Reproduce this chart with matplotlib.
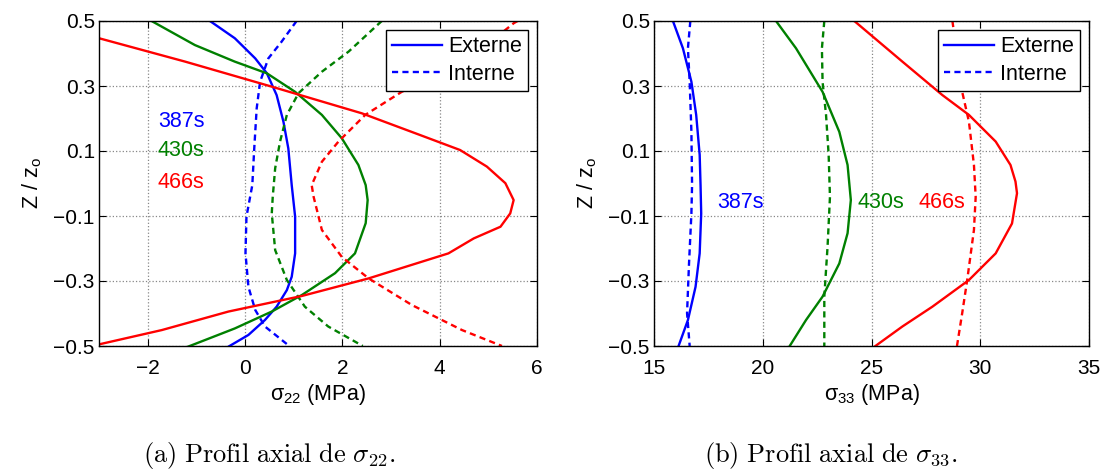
import matplotlib
matplotlib.use("Agg")
import matplotlib.pyplot as plt

plt.rcParams['font.family'] = ['Liberation Sans', 'DejaVu Sans']

# --- sigma_22 profiles (left panel): (Z/zo, stress in MPa) ---
z_s22_ext_387 = [0.5, 0.447, 0.385, 0.339, 0.272, 0.190, 0.108, -0.005, -0.102, -0.215, -0.287, -0.328, -0.379, -0.420, -0.466, -0.502]
s22_ext_387 = [-0.72, -0.21, 0.21, 0.45, 0.65, 0.79, 0.89, 0.96, 1.03, 1.03, 0.96, 0.86, 0.65, 0.41, 0.07, -0.34]
z_s22_int_387 = [0.5, 0.436, 0.385, 0.313, 0.231, 0.108, -0.005, -0.102, -0.215, -0.318, -0.389, -0.440, -0.5]
s22_int_387 = [1.06, 0.75, 0.48, 0.31, 0.24, 0.19, 0.15, 0.03, 0.01, 0.07, 0.21, 0.41, 0.91]

z_s22_ext_430 = [0.5, 0.426, 0.375, 0.339, 0.282, 0.211, 0.139, 0.057, -0.005, -0.051, -0.122, -0.215, -0.276, -0.343, -0.394, -0.446, -0.502]
s22_ext_430 = [-1.92, -1.03, -0.21, 0.45, 1.03, 1.58, 1.99, 2.33, 2.48, 2.52, 2.48, 2.26, 1.85, 1.17, 0.55, -0.21, -1.17]
z_s22_int_430 = [0.5, 0.406, 0.344, 0.278, 0.211, 0.129, 0.047, -0.041, -0.092, -0.205, -0.297, -0.379, -0.440, -0.5]
s22_int_430 = [2.81, 2.13, 1.58, 1.10, 0.86, 0.72, 0.62, 0.57, 0.55, 0.62, 0.86, 1.23, 1.71, 2.42]

z_s22_ext_466 = [0.5, 0.447, 0.375, 0.298, 0.216, 0.149, 0.103, 0.052, 0.001, -0.051, -0.092, -0.133, -0.169, -0.215, -0.292, -0.346, -0.394, -0.451, -0.495]
s22_ext_466 = [-4.2, -3.0, -1.23, 0.55, 2.40, 3.60, 4.42, 4.97, 5.35, 5.52, 5.45, 5.25, 4.70, 4.18, 2.54, 1.17, -0.34, -1.71, -3.0]
z_s22_int_466 = [0.5, 0.493, 0.365, 0.282, 0.211, 0.129, 0.067, -0.005, -0.041, -0.143, -0.226, -0.292, -0.374, -0.451, -0.5]
s22_int_466 = [5.6, 5.52, 4.46, 3.22, 2.47, 1.92, 1.58, 1.37, 1.41, 1.58, 1.99, 2.54, 3.43, 4.46, 5.28]

# --- sigma_33 profiles (right panel) ---
z_s33_ext_387 = [0.5, 0.416, 0.313, 0.211, 0.088, -0.005, -0.092, -0.215, -0.318, -0.420, -0.5]
s33_ext_387 = [15.87, 16.33, 16.72, 16.94, 17.10, 17.14, 17.17, 17.10, 16.91, 16.56, 16.13]
z_s33_int_387 = [0.5, 0.416, 0.313, 0.159, -0.005, -0.092, -0.246, -0.399, -0.5]
s33_int_387 = [16.67, 16.56, 16.64, 16.72, 16.75, 16.72, 16.61, 16.52, 16.64]

z_s33_ext_430 = [0.5, 0.416, 0.282, 0.159, 0.057, -0.051, -0.153, -0.246, -0.348, -0.420, -0.5]
s33_ext_430 = [20.61, 21.53, 22.75, 23.52, 23.90, 24.05, 23.90, 23.52, 22.75, 21.99, 21.24]
z_s33_int_430 = [0.5, 0.416, 0.313, 0.211, 0.088, -0.041, -0.194, -0.348, -0.5]
s33_int_430 = [22.83, 22.72, 22.75, 22.91, 23.03, 23.09, 22.98, 22.83, 22.83]

z_s33_ext_466 = [0.5, 0.375, 0.272, 0.211, 0.129, 0.057, 0.006, -0.030, -0.123, -0.215, -0.297, -0.379, -0.440, -0.5]
s33_ext_466 = [24.21, 26.42, 28.26, 29.48, 30.71, 31.39, 31.62, 31.69, 31.46, 30.71, 29.48, 27.80, 26.42, 25.18]
z_s33_int_466 = [0.5, 0.282, 0.190, 0.057, -0.041, -0.143, -0.297, -0.399, -0.5]
s33_int_466 = [28.72, 29.17, 29.48, 29.71, 29.79, 29.71, 29.40, 29.17, 28.93]

times = ['387s', '430s', '466s']
colors = ['#0000ff', '#008000', '#ff0000']
yticks = [-0.5, -0.3, -0.1, 0.1, 0.3, 0.5]

fig = plt.figure(figsize=(11.05, 4.71), dpi=100)
ax1 = fig.add_axes([99/1105, 125/471, 438/1105, 325/471])
ax2 = fig.add_axes([654/1105, 125/471, 435/1105, 325/471])

dash = (2.6, 1.8)
lw = 1.7

left_ext = [(s22_ext_387, z_s22_ext_387), (s22_ext_430, z_s22_ext_430), (s22_ext_466, z_s22_ext_466)]
left_int = [(s22_int_387, z_s22_int_387), (s22_int_430, z_s22_int_430), (s22_int_466, z_s22_int_466)]
right_ext = [(s33_ext_387, z_s33_ext_387), (s33_ext_430, z_s33_ext_430), (s33_ext_466, z_s33_ext_466)]
right_int = [(s33_int_387, z_s33_int_387), (s33_int_430, z_s33_int_430), (s33_int_466, z_s33_int_466)]

for ax, ext, intr in [(ax1, left_ext, left_int), (ax2, right_ext, right_int)]:
    for i in range(3):
        ax.plot(ext[i][0], ext[i][1], color=colors[i], lw=lw,
                label='Externe' if i == 0 else None)
        ax.plot(intr[i][0], intr[i][1], color=colors[i], lw=lw, dashes=dash,
                label='Interne' if i == 0 else None)
    ax.set_ylim(-0.5, 0.5)
    ax.set_yticks(yticks)
    ax.set_yticklabels(['\u22120.5', '\u22120.3', '\u22120.1', '0.1', '0.3', '0.5'])
    ax.grid(True, linestyle=':', color='#888888', lw=0.9)
    ax.tick_params(direction='in', top=True, right=True, labelsize=15, length=5)
    ax.tick_params(axis='y', pad=3)
    ax.tick_params(axis='x', pad=9)
    for sp in ax.spines.values():
        sp.set_linewidth(1.0)
    ax.set_ylabel(r'Z / z$_{\mathregular{o}}$', fontsize=15.5, labelpad=7)
    leg = ax.legend(loc='upper right', fontsize=15.5, handlelength=2.3, handletextpad=0.3,
                    borderpad=0.3, labelspacing=0.3, fancybox=False, framealpha=1,
                    edgecolor='black', borderaxespad=0.4)
    leg.get_frame().set_linewidth(1.0)

ax1.set_xlim(-3, 6)
ax1.set_xticks([-2, 0, 2, 4, 6])
ax1.set_xticklabels(['\u22122', '0', '2', '4', '6'])
ax1.set_xlabel(r'$\mathregular{\sigma_{22}}$ (MPa)', fontsize=15.5, labelpad=3)
ax2.set_xlim(15, 35)
ax2.set_xticks([15, 20, 25, 30, 35])
ax2.set_xlabel(r'$\mathregular{\sigma_{33}}$ (MPa)', fontsize=15.5, labelpad=3)

# time labels
for i, (t, zz) in enumerate(zip(times, [0.19, 0.10, 0.003])):
    ax1.text(-1.79, zz, t, color=colors[i], fontsize=15.5, ha='left', va='center')
for i, (t, xx) in enumerate(zip(times, [17.92, 24.34, 27.18])):
    ax2.text(xx, -0.06, t, color=colors[i], fontsize=15.5, ha='left', va='center')

# captions
fig.text(269/1105, 1 - 462/471, r'$\mathrm{(a)\ Profil\ axial\ de\ }\sigma_{22}.$',
         fontsize=19, ha='center', va='baseline', math_fontfamily='cm')
fig.text(831/1105, 1 - 462/471, r'$\mathrm{(b)\ Profil\ axial\ de\ }\sigma_{33}.$',
         fontsize=19, ha='center', va='baseline', math_fontfamily='cm')

fig.savefig('out.png', dpi=100)
